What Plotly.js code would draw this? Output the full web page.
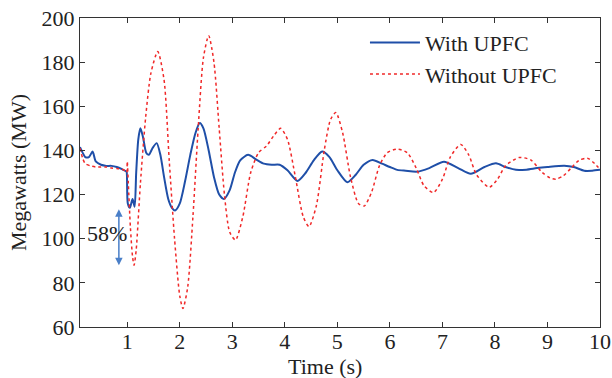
<!DOCTYPE html>
<html>
<head>
<meta charset="utf-8">
<script src="https://cdn.plot.ly/plotly-3.0.1.min.js"></script>
<style>html,body{margin:0;padding:0;background:#fff;}#chart{width:612px;height:378px;}</style>
</head>
<body>
<div id="chart"></div>
<script>
// With UPFC
var tWith = [0.1, 0.15, 0.2, 0.27, 0.34, 0.4, 0.5, 0.6, 0.7, 0.8, 0.9, 0.98, 0.99, 1.01, 1.05, 1.1, 1.14, 1.17, 1.21, 1.25, 1.3, 1.36, 1.41, 1.48, 1.56, 1.63, 1.7, 1.78, 1.85, 1.91, 2.0, 2.1, 2.2, 2.3, 2.38, 2.45, 2.55, 2.65, 2.75, 2.84, 2.95, 3.05, 3.15, 3.3, 3.45, 3.6, 3.75, 3.9, 4.05, 4.24, 4.4, 4.55, 4.71, 4.85, 5.0, 5.19, 5.35, 5.5, 5.67, 5.85, 6.0, 6.14, 6.3, 6.52, 6.75, 7.03, 7.3, 7.54, 7.8, 8.02, 8.2, 8.4, 8.6, 8.8, 9.0, 9.32, 9.5, 9.7, 9.85, 10];
var pWith = [141.5, 139, 137, 137, 139.5, 135, 133.5, 133, 133, 132.5, 131.5, 130.5, 130, 116, 114, 118, 114.5, 130, 145, 150, 146, 139, 138, 141, 143.3, 138, 128, 118, 114, 112.8, 116, 126, 138, 148, 152.4, 150, 140, 128, 120, 118, 122, 130, 135.5, 138, 136, 134, 133.5, 133.5, 131, 126.2, 130, 135.5, 139.5, 137, 131, 125.6, 129, 133.5, 135.7, 134, 132.5, 131.2, 130.8, 130.4, 132, 134.9, 132, 129.4, 132.5, 134.2, 132.5, 131.2, 131.3, 132, 132.5, 133.1, 132.5, 130.8, 130.8, 131.2];
// Without UPFC
var tWithout = [0.1, 0.15, 0.2, 0.3, 0.4, 0.5, 0.6, 0.7, 0.8, 0.9, 0.98, 0.99, 1.0, 1.02, 1.06, 1.1, 1.13, 1.17, 1.25, 1.35, 1.45, 1.58, 1.7, 1.8, 1.9, 2.0, 2.06, 2.15, 2.25, 2.35, 2.45, 2.55, 2.65, 2.75, 2.85, 2.95, 3.06, 3.2, 3.35, 3.5, 3.65, 3.8, 3.92, 4.05, 4.2, 4.35, 4.46, 4.6, 4.75, 4.87, 4.97, 5.1, 5.25, 5.4, 5.51, 5.65, 5.8, 5.95, 6.14, 6.33, 6.5, 6.65, 6.83, 7.0, 7.15, 7.35, 7.5, 7.65, 7.89, 8.05, 8.2, 8.46, 8.68, 8.9, 9.05, 9.16, 9.3, 9.45, 9.6, 9.76, 9.9, 10];
var pWithout = [141, 136.5, 134, 133, 132.5, 132.5, 132.5, 132, 131.8, 131.5, 130.5, 130, 135, 125, 105, 92, 88, 95, 125, 155, 175, 184.8, 172, 135, 100, 74, 68.4, 78, 110, 150, 182, 192, 180, 150, 120, 103, 99.4, 110, 130, 139, 142, 147, 150, 145, 128, 110, 105.5, 115, 140, 154, 157.2, 148, 128, 116, 114.8, 121, 133, 139, 140.6, 139, 132, 124, 120.9, 127, 137, 142.7, 138, 129, 123.3, 127, 133, 136.8, 135.7, 130, 127.5, 127, 128.5, 132, 135.5, 136.5, 134, 131.5];
var seriesNames = ["With UPFC", "Without UPFC"];
var xTicks = [1, 2, 3, 4, 5, 6, 7, 8, 9, 10];
var yTicks = [60, 80, 100, 120, 140, 160, 180, 200];
var xTitle = "Time (s)";
var yTitle = "Megawatts (MW)";
var dropLabel = "58%";
var dropTop = 114, dropBottom = 88, dropT = 0.84;

var font = "Liberation Serif";
var fs = 22;
var traces = [
  {x: tWith, y: pWith, name: seriesNames[0], type: "scatter", mode: "lines",
   line: {color: "#1f4fa8", width: 2, shape: "spline", smoothing: 0.7}},
  {x: tWithout, y: pWithout, name: seriesNames[1], type: "scatter", mode: "lines",
   line: {color: "#f02828", width: 1.5, dash: "dot", shape: "spline", smoothing: 0.7}}
];
var axisCommon = {
  showline: true, linecolor: "#333", linewidth: 1, mirror: "ticks",
  ticks: "inside", ticklen: 5, tickcolor: "#333", tickwidth: 1,
  showgrid: false, zeroline: false, automargin: false,
  tickfont: {family: font, size: fs, color: "#222"}
};
var layout = {
  width: 612, height: 378,
  margin: {l: 80, r: 12, t: 18, b: 51},
  paper_bgcolor: "#fff", plot_bgcolor: "#fff",
  font: {family: font, size: fs, color: "#222"},
  showlegend: true,
  legend: {x: 0.548, y: 0.988, xanchor: "left", yanchor: "top", bgcolor: "rgba(0,0,0,0)",
           font: {family: font, size: fs, color: "#222"}, itemwidth: 50, tracegroupgap: 0},
  xaxis: Object.assign({}, axisCommon, {
    range: [0.1, 10], tickvals: xTicks, ticktext: xTicks.map(String), ticklabelstandoff: -5
  }),
  yaxis: Object.assign({}, axisCommon, {
    range: [60, 200], tickvals: yTicks, ticktext: yTicks.map(String),
    title: {text: yTitle, font: {family: font, size: fs, color: "#222"}, standoff: 8}
  }),
  annotations: [
    {x: 0.471, y: -0.128, xref: "paper", yref: "paper", xanchor: "center", yanchor: "middle",
     text: xTitle, showarrow: false, font: {family: font, size: fs, color: "#222"}},
    {x: dropT, y: dropBottom, ax: dropT, ay: dropTop, xref: "x", yref: "y", axref: "x", ayref: "y",
     text: "", showarrow: true, arrowhead: 2, arrowside: "end+start", arrowsize: 1, arrowwidth: 1.5,
     arrowcolor: "#4a7fc8", standoff: 0, startstandoff: 0},
    {x: 0.62, y: 102.5, xref: "x", yref: "y", text: dropLabel, showarrow: false,
     font: {family: font, size: fs, color: "#222"}}
  ]
};
Plotly.newPlot("chart", traces, layout, {staticPlot: true, displayModeBar: false});
</script>
</body>
</html>
